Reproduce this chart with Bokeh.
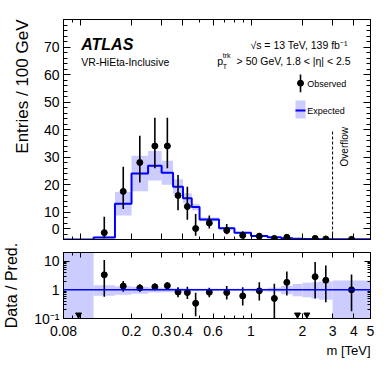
import numpy as np
from bokeh.plotting import figure
from bokeh.layouts import column
from bokeh.models import (Range1d, LinearScale, FixedTicker, LinearAxis, LogAxis,
                          Title, Span, CustomJSTickFormatter)
from bokeh.embed import file_html
from bokeh.resources import INLINE
from bokeh.core.properties import value

# ---------------- data ----------------
bin_edges = [0.08, 0.12, 0.16, 0.2, 0.25, 0.3, 0.35, 0.4, 0.45, 0.5, 0.65,
             0.8, 1.0, 1.25, 1.5, 1.75, 2.0, 2.25, 2.5, 3.0, 5.0]
expected = [0.0, 0.75, 13.0, 24.0, 26.8, 24.3, 19.2, 15.0, 11.8, 7.3, 4.1,
            2.45, 1.3, 0.8, 0.44, 0.3, 0.2, 0.14, 0.093, 0.05]
exp_unc_up = [99.0, 0.45, 0.33, 0.27, 0.2, 0.18, 0.14, 0.12, 0.1, 0.09, 0.08,
              0.08, 0.1, 0.18, 0.4, 0.6, 0.75, 0.85, 0.95, 1.1]
exp_unc_dn = [1.0, 0.38, 0.33, 0.27, 0.2, 0.18, 0.14, 0.12, 0.1, 0.09, 0.08,
              0.08, 0.1, 0.15, 0.3, 0.4, 0.45, 0.5, 0.55, 1.0]
observed = [0.0, 2.5, 17.5, 28.0, 34.0, 34.0, 16.0, 12.0, 4.0, 6.0, 3.3,
            1.5, 1.2, 0.4, 0.8, 0.0, 0.0, 0.4, 0.2, 0.05]
observed_lo = [0.0, 0.43, 11.05, 20.7, 25.9, 25.9, 10.6, 7.2, 1.4, 4.0, 1.9,
               0.7, 0.55, 0.07, 0.28, 0.0, 0.0, 0.07, 0.034, 0.009]
observed_hi = [0.0, 8.25, 26.5, 37.7, 44.3, 44.3, 23.5, 19.2, 9.3, 8.7, 5.6,
               3.0, 2.4, 1.3, 1.9, 0.0, 0.0, 1.3, 0.66, 0.17]
overflow_line_top = 40.0

x_tick_values = [0.08, 0.1, 0.2, 0.3, 0.4, 0.6, 1, 2, 3, 4, 5]
x_tick_labels = ["0.08", "", "0.2", "0.3", "0.4", "0.6", "1", "2", "3", "4", "5"]
x_minor_ticks = [0.09, 0.5, 0.7, 0.8, 0.9]
# ROOT draws the "0" label lifted above the pad edge; it sits at the 4 tick
y_main_ticks = [4, 10, 20, 30, 40, 50, 60, 70]
y_main_labels = ["0", "10", "20", "30", "40", "50", "60", "70"]
y_main_minor = [2, 4, 6, 8, 12, 14, 16, 18, 22, 24, 26, 28, 32, 34, 36, 38,
                42, 44, 46, 48, 52, 54, 56, 58, 62, 64, 66, 68, 72, 74, 76, 78]
ratio_ticks = [0.1, 1, 10]
ratio_tick_labels = ["10\u207b\u00b9", "1", "10"]
ratio_minor = [0.2, 0.3, 0.4, 0.5, 0.6, 0.7, 0.8, 0.9, 2, 3, 4, 5, 6, 7, 8, 9, 20]

# ---------------- style ----------------
FONT = "Liberation Sans"
BLUE = "#0000ff"
BAND = "#ccccff"
X_MIN, X_MAX = 0.08, 5.0
Y_MAX = 80
R_MIN, R_MAX = 0.1, 20
W = 380

e = np.array(bin_edges)
ex = np.array(expected)
up = np.array(exp_unc_up)
dn = np.array(exp_unc_dn)
ob = np.array(observed)
olo = np.array(observed_lo)
ohi = np.array(observed_hi)
xc = np.sqrt(e[:-1] * e[1:])


def fmt(vals, labs):
    return CustomJSTickFormatter(args=dict(vals=vals, labs=labs), code="""
        for (let i = 0; i < vals.length; i++) {
            if (Math.abs(vals[i] - tick) < 1e-9) { return labs[i]; }
        }
        return "";
    """)


BLANK = CustomJSTickFormatter(code='return "";')


def style_axis(ax, labels, major_in, minor_in, size="14px"):
    ax.major_tick_in = major_in
    ax.major_tick_out = 0
    ax.minor_tick_in = minor_in
    ax.minor_tick_out = 0
    ax.axis_line_color = "black"
    ax.major_tick_line_color = "black"
    ax.minor_tick_line_color = "black"
    ax.major_label_text_font = FONT
    ax.major_label_text_color = "black"
    if labels:
        ax.major_label_text_font_size = size
    else:
        ax.formatter = BLANK
        ax.major_label_text_font_size = "0px"
        ax.major_label_standoff = 0


# ---------------- main panel ----------------
p = figure(width=W, height=241, x_axis_type="log",
           x_range=Range1d(X_MIN, X_MAX), y_range=Range1d(0, Y_MAX),
           output_backend="svg", toolbar_location=None, tools="",
           x_axis_location=None, y_axis_location=None,
           min_border_left=63, min_border_right=10,
           min_border_top=19, min_border_bottom=2)
p.outline_line_color = "black"
p.grid.visible = False
p.background_fill_color = "white"
p.border_fill_color = "white"
p.extra_x_ranges = {"fx": Range1d(0, 1)}
p.extra_x_scales = {"fx": LinearScale()}
p.extra_y_ranges = {"fy": Range1d(0, 1)}
p.extra_y_scales = {"fy": LinearScale()}

xt = FixedTicker(ticks=x_tick_values, minor_ticks=x_minor_ticks)
yt = FixedTicker(ticks=y_main_ticks, minor_ticks=y_main_minor)

ax_b = LogAxis(ticker=xt)
style_axis(ax_b, False, 6, 3)
p.add_layout(ax_b, "below")
ax_t = LogAxis(ticker=xt)
style_axis(ax_t, False, 6, 3)
p.add_layout(ax_t, "above")
ax_l = LinearAxis(ticker=yt, formatter=fmt(y_main_ticks, y_main_labels))
style_axis(ax_l, True, 7, 4)
ax_l.major_label_standoff = 4
p.add_layout(ax_l, "left")
ax_r = LinearAxis(ticker=yt)
style_axis(ax_r, False, 7, 4)
p.add_layout(ax_r, "right")

p.add_layout(Title(text="Entries / 100 GeV", align="right", standoff=17,
                   text_font=FONT, text_font_size="17px",
                   text_font_style="normal", text_color="black"), "left")

# expected band and line
p.quad(left=e[:-1], right=e[1:], bottom=ex * (1 - dn), top=ex * (1 + up),
       fill_color=BAND, line_color=None)
p.line(np.repeat(e, 2)[1:-1], np.repeat(ex, 2), line_color=BLUE, line_width=2)

# observed
m = ob > 0
p.segment(x0=xc[m], y0=olo[m], x1=xc[m], y1=ohi[m], line_color="black",
          line_width=1.6)
p.scatter(xc[m], ob[m], marker="circle", size=6, fill_color="black",
          line_color="black")

# overflow marker
p.segment(x0=[e[-2]], y0=[0], x1=[e[-2]], y1=[overflow_line_top],
          line_color="black", line_width=1, line_dash="3 2")
p.text(x=[0.915], y=[0.332], text=["Overflow"], angle=np.pi / 2,
       text_align="left", text_baseline="middle", text_font=value(FONT),
       text_font_size="10px", text_color="black",
       x_range_name="fx", y_range_name="fy")

# texts
p.text(x=[0.0576], y=[0.885], text=["ATLAS"], text_font=value(FONT),
       text_font_size="16px", text_font_style="bold italic",
       text_baseline="alphabetic", text_color="black",
       x_range_name="fx", y_range_name="fy")
p.text(x=[0.0576], y=[0.806], text=["VR-HiEta-Inclusive"], text_font=value(FONT),
       text_font_size="10.5px", text_baseline="alphabetic", text_color="black",
       x_range_name="fx", y_range_name="fy")
p.text(x=[0.935], y=[0.885], text=["\u221as = 13 TeV,  139 fb\u207b\u00b9"],
       text_font=value(FONT), text_font_size="10.5px", text_align="right",
       text_baseline="alphabetic", text_color="black",
       x_range_name="fx", y_range_name="fy")
p.text(x=[0.5007], y=[0.8136], text=["p"], text_font=value(FONT),
       text_font_size="10.5px", text_baseline="alphabetic", text_color="black",
       x_range_name="fx", y_range_name="fy")
p.text(x=[0.5186], y=[0.836], text=["trk"], text_font=value(FONT),
       text_font_size="7px", text_baseline="alphabetic", text_color="black",
       x_range_name="fx", y_range_name="fy")
p.text(x=[0.5186], y=[0.788], text=["T"], text_font=value(FONT),
       text_font_size="7px", text_baseline="alphabetic", text_color="black",
       x_range_name="fx", y_range_name="fy")
p.text(x=[0.935], y=[0.8136], text=["> 50 GeV, 1.8 < |\u03b7| < 2.5"],
       text_font=value(FONT), text_font_size="10.5px", text_align="right",
       text_baseline="alphabetic", text_color="black",
       x_range_name="fx", y_range_name="fy")

# legend
p.segment(x0=[0.772], y0=[0.6695], x1=[0.772], y1=[0.75], line_color="black",
          line_width=1.6, x_range_name="fx", y_range_name="fy")
p.scatter([0.772], [0.7105], marker="circle", size=6, fill_color="black",
          line_color="black", x_range_name="fx", y_range_name="fy")
p.text(x=[0.7938], y=[0.709], text=["Observed"], text_font=value(FONT),
       text_font_size="9px", text_baseline="middle", text_color="black",
       x_range_name="fx", y_range_name="fy")
p.quad(left=[0.7557], right=[0.7883], bottom=[0.55], top=[0.6318],
       fill_color=BAND, line_color=None, x_range_name="fx", y_range_name="fy")
p.segment(x0=[0.7557], y0=[0.5864], x1=[0.7883], y1=[0.5864],
          line_color=BLUE, line_width=2, x_range_name="fx", y_range_name="fy")
p.text(x=[0.7938], y=[0.583], text=["Expected"], text_font=value(FONT),
       text_font_size="9px", text_baseline="middle", text_color="black",
       x_range_name="fx", y_range_name="fy")

# ---------------- ratio panel ----------------
r = figure(width=W, height=122, x_axis_type="log", y_axis_type="log",
           x_range=p.x_range, y_range=Range1d(R_MIN, R_MAX),
           output_backend="svg", toolbar_location=None, tools="",
           x_axis_location=None, y_axis_location=None,
           min_border_left=63, min_border_right=10,
           min_border_top=11, min_border_bottom=45)
r.outline_line_color = "black"
r.grid.visible = False
r.background_fill_color = "white"
r.border_fill_color = "white"

rt = FixedTicker(ticks=ratio_ticks, minor_ticks=ratio_minor)
rb = LogAxis(ticker=xt, formatter=fmt(x_tick_values, x_tick_labels))
style_axis(rb, True, 5, 3)
rb.major_label_standoff = 7
r.add_layout(rb, "below")
ra = LogAxis(ticker=xt)
style_axis(ra, False, 5, 3)
r.add_layout(ra, "above")
rl = LogAxis(ticker=rt, formatter=fmt(ratio_ticks, ratio_tick_labels))
style_axis(rl, True, 6, 3)
rl.major_label_standoff = 4
rl.axis_label = "Data / Pred."
rl.axis_label_text_font = FONT
rl.axis_label_text_font_style = "normal"
rl.axis_label_text_color = "black"
rl.axis_label_text_font_size = "16px"
rl.axis_label_standoff = 11
r.add_layout(rl, "left")
rr = LogAxis(ticker=rt)
style_axis(rr, False, 6, 3)
r.add_layout(rr, "right")

r.add_layout(Title(text="m [TeV]", align="right", standoff=5,
                   text_font=FONT, text_font_size="13px",
                   text_font_style="normal", text_color="black"), "below")

r.quad(left=e[:-1], right=e[1:], bottom=np.maximum(1 - dn, 1e-3), top=1 + up,
       fill_color=BAND, line_color=None)
r.add_layout(Span(location=1, dimension="width", line_color=BLUE, line_width=1.5))

mr = (ob > 0) & (ex > 0)
ratio = np.where(mr, ob / np.where(ex > 0, ex, 1), np.nan)
ratio_lo = np.where(mr, olo / np.where(ex > 0, ex, 1), np.nan)
ratio_hi = np.where(mr, ohi / np.where(ex > 0, ex, 1), np.nan)
r.segment(x0=xc[mr], y0=ratio_lo[mr], x1=xc[mr], y1=ratio_hi[mr],
          line_color="black", line_width=1.6)
r.scatter(xc[mr], ratio[mr], marker="circle", size=6, fill_color="black",
          line_color="black")
mz = ob <= 0
r.scatter(xc[mz], np.full(mz.sum(), 0.135), marker="inverted_triangle", size=6,
          fill_color="black", line_color="black")

layout = column(p, r, spacing=0)
open("out.html", "w").write(file_html(layout, INLINE))
